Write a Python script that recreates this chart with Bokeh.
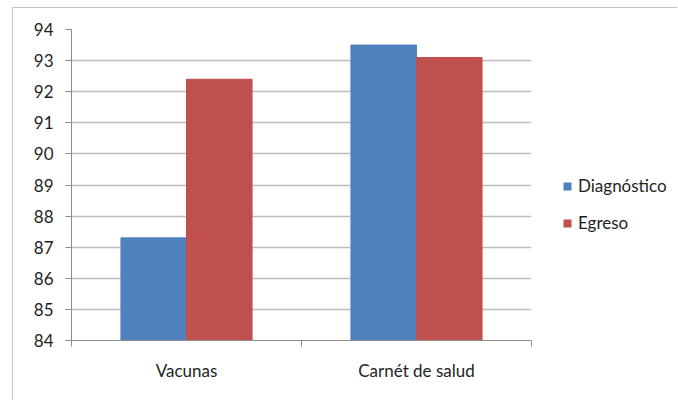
from bokeh.plotting import figure
from bokeh.layouts import row
from bokeh.models import ColumnDataSource, FixedTicker, Legend, LegendItem, Range1d
from bokeh.embed import file_html
from bokeh.resources import INLINE

# ---- data ----
categories = ["Vacunas", "Carnét de salud"]
diagnostico = [87.3, 93.5]
egreso = [92.4, 93.1]
y_ticks = [84, 85, 86, 87, 88, 89, 90, 91, 92, 93, 94]
series_names = ["Diagnóstico", "Egreso"]

FONT = "Lato"
FSIZE = "17px"
TEXT = "#1f1f1f"
BLUE = "#4F81BD"
RED = "#C0504D"
COLORS = [BLUE, RED]

centers = [i + 0.5 for i in range(len(categories))]
bounds = [i for i in range(len(categories) + 1)]
bar_w = 0.285

src = ColumnDataSource(dict(
    x_d=[c - bar_w / 2 for c in centers],
    x_e=[c + bar_w / 2 for c in centers],
    diag=diagnostico,
    egr=egreso,
))

H = 392
p = figure(width=527, height=H,
           x_range=Range1d(0, len(categories)),
           y_range=Range1d(y_ticks[0], y_ticks[-1]),
           output_backend="svg", toolbar_location=None,
           min_border_left=58, min_border_right=9,
           min_border_top=21, min_border_bottom=60)
p.outline_line_color = None
p.background_fill_color = "white"
p.border_fill_color = "white"

p.vbar(x="x_d", top="diag", bottom=y_ticks[0], width=bar_w, source=src,
       fill_color=BLUE, line_color=BLUE, line_width=1)
p.vbar(x="x_e", top="egr", bottom=y_ticks[0], width=bar_w, source=src,
       fill_color=RED, line_color=RED, line_width=1)

# grids
p.xgrid.visible = False
p.ygrid.ticker = FixedTicker(ticks=y_ticks)
p.ygrid.grid_line_color = "#bdbdbd"
p.ygrid.grid_line_width = 1.5

# y axis
ya = p.yaxis[0]
ya.ticker = FixedTicker(ticks=y_ticks)
ya.axis_line_color = "#8c8c8c"
ya.major_tick_line_color = "#8c8c8c"
ya.major_tick_out = 6
ya.major_tick_in = 0
ya.minor_tick_line_color = None
ya.major_label_standoff = 12
ya.major_label_text_font = FONT
ya.major_label_text_font_size = FSIZE
ya.major_label_text_color = TEXT

# x axis
xa = p.xaxis[0]
xa.ticker = FixedTicker(ticks=centers, minor_ticks=bounds)
xa.major_label_overrides = {c: n for c, n in zip(centers, categories)}
xa.axis_line_color = "#8c8c8c"
xa.major_tick_line_color = None
xa.major_tick_out = 0
xa.major_tick_in = 0
xa.minor_tick_line_color = "#8c8c8c"
xa.minor_tick_out = 6
xa.minor_tick_in = 0
xa.major_label_standoff = 13
xa.major_label_text_font = FONT
xa.major_label_text_font_size = FSIZE
xa.major_label_text_color = TEXT

# legend panel (separate figure to the right so the legend is not clipped)
p2 = figure(width=137, height=H, x_range=Range1d(0, 1), y_range=Range1d(0, 1),
            output_backend="svg", toolbar_location=None,
            x_axis_location=None, y_axis_location=None,
            min_border_left=0, min_border_right=0,
            min_border_top=0, min_border_bottom=0)
p2.outline_line_color = None
p2.grid.visible = False
p2.background_fill_color = "white"
p2.border_fill_color = "white"
items = []
for name, col in zip(series_names, COLORS):
    # zero-size proxy glyph: only used to draw the legend swatch
    rr = p2.vbar(x=[0], top=[0], bottom=[0], width=0, fill_color=col, line_color=None)
    items.append(LegendItem(label=name, renderers=[rr]))

legend = Legend(items=items, location=(22, 107),
                glyph_width=10, glyph_height=10, label_standoff=6,
                spacing=16, padding=0, margin=0, label_height=20,
                border_line_color=None, background_fill_alpha=0,
                label_text_font=FONT, label_text_font_size=FSIZE,
                label_text_color=TEXT)
p2.add_layout(legend)

layout = row(p, p2, spacing=0)
layout.styles = {"border-top": "1px solid #c4c4c4", "border-left": "1px solid #c4c4c4",
                 "margin-left": "12px", "margin-top": "7px"}

open("out.html", "w").write(file_html(layout, INLINE))
